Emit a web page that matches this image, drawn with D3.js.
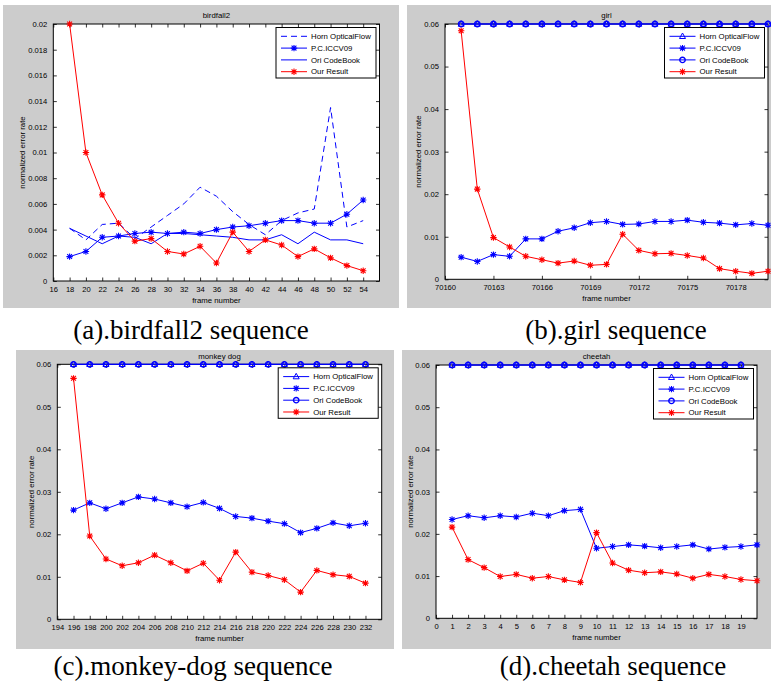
<!DOCTYPE html>
<html>
<head>
<meta charset="utf-8">
<script src="https://cdn.jsdelivr.net/npm/d3@7"></script>
<style>
  body { margin: 0; background: #fff; }
  svg { display: block; }
  text { font-family: "Liberation Sans", Arial, sans-serif; }
</style>
</head>
<body>
<svg id="fig"></svg>
<script>
const width = 771;
const height = 683;

// legend labels, same for every panel
const legendLabels = ["Horn OpticalFlow", "P.C.ICCV09", "Ori CodeBook", "Our Result"];

// (a) birdfall2
const birdFrames = [18, 20, 22, 24, 26, 28, 30, 32, 34, 36, 38, 40, 42, 44, 46, 48, 50, 52, 54];
const birdHorn = [0.0041, 0.0032, 0.0044, 0.0045, 0.0033, 0.0042, 0.0051, 0.0060, 0.0073, 0.0066, 0.0054, 0.0044, 0.0036, 0.0047, 0.0053, 0.0056, 0.0135, 0.0042, 0.0047];
const birdPC = [0.0019, 0.0023, 0.0034, 0.0035, 0.0037, 0.0038, 0.0037, 0.0038, 0.0037, 0.0040, 0.0042, 0.0043, 0.0045, 0.0047, 0.0047, 0.0045, 0.0045, 0.0052, 0.0063];
const birdOri = [0.0041, 0.0035, 0.0029, 0.0035, 0.0034, 0.0029, 0.0037, 0.0037, 0.0036, 0.0035, 0.0034, 0.0032, 0.0032, 0.0036, 0.0029, 0.0038, 0.0032, 0.0032, 0.0029];
const birdOur = [0.0200, 0.0100, 0.0067, 0.0045, 0.0031, 0.0033, 0.0023, 0.0021, 0.0027, 0.0014, 0.0038, 0.0023, 0.0032, 0.0028, 0.0019, 0.0025, 0.0018, 0.0012, 0.0008];
const birdXTicks = [16, 18, 20, 22, 24, 26, 28, 30, 32, 34, 36, 38, 40, 42, 44, 46, 48, 50, 52, 54];
const birdYTicks = [0, 0.002, 0.004, 0.006, 0.008, 0.01, 0.012, 0.014, 0.016, 0.018, 0.02];

// (b) girl
const girlFrames = [70161, 70162, 70163, 70164, 70165, 70166, 70167, 70168, 70169, 70170, 70171, 70172, 70173, 70174, 70175, 70176, 70177, 70178, 70179, 70180];
const girlHorn = [0.06, 0.06, 0.06, 0.06, 0.06, 0.06, 0.06, 0.06, 0.06, 0.06, 0.06, 0.06, 0.06, 0.06, 0.06, 0.06, 0.06, 0.06, 0.06, 0.06];
const girlPC = [0.0052, 0.0042, 0.0058, 0.0054, 0.0095, 0.0095, 0.0113, 0.0121, 0.0133, 0.0136, 0.0129, 0.0130, 0.0136, 0.0136, 0.0139, 0.0134, 0.0132, 0.0128, 0.0131, 0.0127];
const girlOri = [0.06, 0.06, 0.06, 0.06, 0.06, 0.06, 0.06, 0.06, 0.06, 0.06, 0.06, 0.06, 0.06, 0.06, 0.06, 0.06, 0.06, 0.06, 0.06, 0.06];
const girlOur = [0.0584, 0.0212, 0.0098, 0.0076, 0.0054, 0.0046, 0.0038, 0.0043, 0.0033, 0.0035, 0.0106, 0.0068, 0.0060, 0.0061, 0.0056, 0.0050, 0.0025, 0.0019, 0.0014, 0.0019];
const girlXTicks = [70160, 70163, 70166, 70169, 70172, 70175, 70178];
const girlYTicks = [0, 0.01, 0.02, 0.03, 0.04, 0.05, 0.06];

// (c) monkey dog
const monkeyFrames = [196, 198, 200, 202, 204, 206, 208, 210, 212, 214, 216, 218, 220, 222, 224, 226, 228, 230, 232];
const monkeyHorn = [0.06, 0.06, 0.06, 0.06, 0.06, 0.06, 0.06, 0.06, 0.06, 0.06, 0.06, 0.06, 0.06, 0.06, 0.06, 0.06, 0.06, 0.06, 0.06];
const monkeyPC = [0.0257, 0.0274, 0.0260, 0.0274, 0.0288, 0.0283, 0.0274, 0.0265, 0.0275, 0.0261, 0.0242, 0.0238, 0.0231, 0.0225, 0.0204, 0.0214, 0.0227, 0.0220, 0.0226];
const monkeyOri = [0.06, 0.06, 0.06, 0.06, 0.06, 0.06, 0.06, 0.06, 0.06, 0.06, 0.06, 0.06, 0.06, 0.06, 0.06, 0.06, 0.06, 0.06, 0.06];
const monkeyOur = [0.0567, 0.0196, 0.0142, 0.0126, 0.0133, 0.0151, 0.0133, 0.0114, 0.0132, 0.0092, 0.0158, 0.0111, 0.0103, 0.0093, 0.0064, 0.0115, 0.0105, 0.0101, 0.0085];
const monkeyXTicks = [194, 196, 198, 200, 202, 204, 206, 208, 210, 212, 214, 216, 218, 220, 222, 224, 226, 228, 230, 232];
const monkeyYTicks = [0, 0.01, 0.02, 0.03, 0.04, 0.05, 0.06];

// (d) cheetah
const cheetahFrames = [1, 2, 3, 4, 5, 6, 7, 8, 9, 10, 11, 12, 13, 14, 15, 16, 17, 18, 19, 20];
const cheetahTopFrames = [1, 2, 3, 4, 5, 6, 7, 8, 9, 10, 11, 12, 13, 14, 15, 16, 17, 18, 19];
const cheetahHorn = [0.06, 0.06, 0.06, 0.06, 0.06, 0.06, 0.06, 0.06, 0.06, 0.06, 0.06, 0.06, 0.06, 0.06, 0.06, 0.06, 0.06, 0.06, 0.06];
const cheetahPC = [0.0234, 0.0243, 0.0238, 0.0243, 0.0240, 0.0249, 0.0243, 0.0255, 0.0258, 0.0166, 0.0170, 0.0174, 0.0171, 0.0167, 0.0170, 0.0174, 0.0164, 0.0168, 0.0170, 0.0174];
const cheetahOri = [0.06, 0.06, 0.06, 0.06, 0.06, 0.06, 0.06, 0.06, 0.06, 0.06, 0.06, 0.06, 0.06, 0.06, 0.06, 0.06, 0.06, 0.06, 0.06];
const cheetahOur = [0.0216, 0.0139, 0.0120, 0.0099, 0.0104, 0.0095, 0.0099, 0.0091, 0.0085, 0.0203, 0.0131, 0.0114, 0.0108, 0.0110, 0.0105, 0.0095, 0.0104, 0.0099, 0.0092, 0.0089];
const cheetahXTicks = [0, 1, 2, 3, 4, 5, 6, 7, 8, 9, 10, 11, 12, 13, 14, 15, 16, 17, 18, 19];
const cheetahYTicks = [0, 0.01, 0.02, 0.03, 0.04, 0.05, 0.06];

const BLUE = "#0000ff";
const RED = "#ff0000";

const svg = d3.select("#fig")
  .attr("width", width)
  .attr("height", height)
  .attr("viewBox", `0 0 ${width} ${height}`);

svg.append("rect").attr("width", width).attr("height", height).attr("fill", "#fff");

// marker shapes (matlab style)
function drawMarker(g, type, color) {
  if (type === "star") {
    g.append("path")
      .attr("d", "M-3.2,0H3.2M0,-3.2V3.2M-2.4,-2.4L2.4,2.4M-2.4,2.4L2.4,-2.4")
      .attr("stroke", color).attr("stroke-width", 1.1).attr("fill", "none");
  } else if (type === "circle") {
    g.append("circle").attr("r", 2.7)
      .attr("stroke", color).attr("stroke-width", 1.4).attr("fill", "none");
  } else if (type === "triangle") {
    g.append("path").attr("d", "M0,-3.3L3,2.2H-3Z")
      .attr("stroke", color).attr("stroke-width", 1).attr("fill", "none");
  }
}

function drawPanel(p) {
  const g = svg.append("g");

  // grey figure background
  g.append("rect")
    .attr("x", p.frame[0]).attr("y", p.frame[1])
    .attr("width", p.frame[2] - p.frame[0]).attr("height", p.frame[3] - p.frame[1])
    .attr("fill", "#cccccc");

  const x = d3.scaleLinear().domain(p.xDomain).range([p.box.left, p.box.right]);
  const y = d3.scaleLinear().domain(p.yDomain).range([p.box.bottom, p.box.top]);

  g.append("rect")
    .attr("x", p.box.left).attr("y", p.box.top)
    .attr("width", p.box.right - p.box.left).attr("height", p.box.bottom - p.box.top)
    .attr("fill", "#fff");

  const fmt = d => String(d);
  const tick = 3.5;

  const xb = g.append("g").attr("transform", `translate(0,${p.box.bottom})`)
    .call(d3.axisBottom(x).tickValues(p.xTicks).tickFormat(fmt).tickSize(-tick).tickPadding(5.5));
  const xt = g.append("g").attr("transform", `translate(0,${p.box.top})`)
    .call(d3.axisTop(x).tickValues(p.xTicks).tickFormat("").tickSize(-tick));
  const yl = g.append("g").attr("transform", `translate(${p.box.left},0)`)
    .call(d3.axisLeft(y).tickValues(p.yTicks).tickFormat(fmt).tickSize(-tick).tickPadding(6));
  const yr = g.append("g").attr("transform", `translate(${p.box.right},0)`)
    .call(d3.axisRight(y).tickValues(p.yTicks).tickFormat("").tickSize(-tick));

  [xb, xt, yl, yr].forEach(a => {
    a.select(".domain").remove();
    a.selectAll("line").attr("stroke", "#000").attr("stroke-width", 0.8);
    a.selectAll("text").attr("font-size", 7.6).attr("fill", "#000")
      .style("font-family", '"Liberation Sans", Arial, sans-serif');
  });

  g.append("rect")
    .attr("x", p.box.left).attr("y", p.box.top)
    .attr("width", p.box.right - p.box.left).attr("height", p.box.bottom - p.box.top)
    .attr("fill", "none").attr("stroke", "#000").attr("stroke-width", 1);

  const cx = (p.box.left + Math.min(p.box.right, width)) / 2;
  g.append("text").attr("x", cx).attr("y", p.box.top - 5.8)
    .attr("text-anchor", "middle").attr("font-size", 7.8).text(p.title);
  g.append("text").attr("x", cx).attr("y", p.box.bottom + 21.5)
    .attr("text-anchor", "middle").attr("font-size", 7.8).text("frame number");
  g.append("text")
    .attr("transform", `translate(${p.box.left - p.yLabelOffset},${(p.box.top + p.box.bottom) / 2}) rotate(-90)`)
    .attr("text-anchor", "middle").attr("dy", "0.35em").attr("font-size", 7.8)
    .text("normalized error rate");

  // series
  const line = d3.line().x(d => x(d[0])).y(d => y(d[1]));
  p.series.forEach(s => {
    const pts = d3.zip(s.frames, s.values);
    g.append("path").datum(pts)
      .attr("d", line)
      .attr("fill", "none")
      .attr("stroke", s.color)
      .attr("stroke-width", 1)
      .attr("stroke-dasharray", s.dash ? "6,4" : null);
    if (s.marker) {
      pts.forEach(d => {
        const m = g.append("g").attr("transform", `translate(${x(d[0])},${y(d[1])})`);
        drawMarker(m, s.marker, s.color);
      });
    }
  });

  // legend
  const lw = 100, lh = 50.5;
  const lx = p.box.right - 3.5 - lw;
  const ly = p.box.top + 3.5;
  const lg = g.append("g").attr("transform", `translate(${lx},${ly})`);
  lg.append("rect").attr("width", lw).attr("height", lh)
    .attr("fill", "#fff").attr("stroke", "#000").attr("stroke-width", 1);
  p.series.forEach((s, i) => {
    const ry = 8.8 + i * 11.8;
    lg.append("line").attr("x1", 5).attr("x2", 31).attr("y1", ry).attr("y2", ry)
      .attr("stroke", s.color).attr("stroke-width", 1)
      .attr("stroke-dasharray", s.dash ? "6,4" : null);
    if (s.marker) {
      const m = lg.append("g").attr("transform", `translate(18,${ry})`);
      drawMarker(m, s.marker, s.color);
    }
    lg.append("text").attr("x", 35).attr("y", ry).attr("dy", "0.35em")
      .attr("font-size", 7.8).text(legendLabels[i]);
  });

  // caption below the figure
  svg.append("text")
    .attr("x", p.captionX).attr("y", p.captionY)
    .attr("text-anchor", "middle")
    .attr("font-size", 27)
    .style("font-family", '"Liberation Serif", "Times New Roman", serif')
    .text(p.caption);
}

drawPanel({
  frame: [3, 5, 399, 308],
  box: { left: 53.3, right: 379.5, top: 24, bottom: 281 },
  xDomain: [16, 56], yDomain: [0, 0.02],
  xTicks: birdXTicks, yTicks: birdYTicks,
  title: "birdfall2", yLabelOffset: 31.5,
  series: [
    { frames: birdFrames, values: birdHorn, color: BLUE, dash: true, marker: null },
    { frames: birdFrames, values: birdPC, color: BLUE, marker: "star" },
    { frames: birdFrames, values: birdOri, color: BLUE, marker: null },
    { frames: birdFrames, values: birdOur, color: RED, marker: "star" }
  ],
  caption: "(a).birdfall2 sequence", captionX: 191, captionY: 339
});

drawPanel({
  frame: [407, 5, 771, 308],
  box: { left: 445, right: 768, top: 24, bottom: 279.3 },
  xDomain: [70160, 70180], yDomain: [0, 0.06],
  xTicks: girlXTicks, yTicks: girlYTicks,
  title: "girl", yLabelOffset: 27,
  series: [
    { frames: girlFrames, values: girlHorn, color: BLUE, marker: "triangle" },
    { frames: girlFrames, values: girlPC, color: BLUE, marker: "star" },
    { frames: girlFrames, values: girlOri, color: BLUE, marker: "circle" },
    { frames: girlFrames, values: girlOur, color: RED, marker: "star" }
  ],
  caption: "(b).girl sequence", captionX: 616, captionY: 339
});

drawPanel({
  frame: [16, 350, 394, 649],
  box: { left: 57.3, right: 381.7, top: 364.3, bottom: 619.3 },
  xDomain: [194, 234], yDomain: [0, 0.06],
  xTicks: monkeyXTicks, yTicks: monkeyYTicks,
  title: "monkey dog", yLabelOffset: 26.5,
  series: [
    { frames: monkeyFrames, values: monkeyHorn, color: BLUE, marker: "triangle" },
    { frames: monkeyFrames, values: monkeyPC, color: BLUE, marker: "star" },
    { frames: monkeyFrames, values: monkeyOri, color: BLUE, marker: "circle" },
    { frames: monkeyFrames, values: monkeyOur, color: RED, marker: "star" }
  ],
  caption: "(c).monkey-dog sequence", captionX: 193, captionY: 675
});

drawPanel({
  frame: [402, 350, 771, 649],
  box: { left: 436, right: 757, top: 365, bottom: 618.3 },
  xDomain: [0, 20], yDomain: [0, 0.06],
  xTicks: cheetahXTicks, yTicks: cheetahYTicks,
  title: "cheetah", yLabelOffset: 26,
  series: [
    { frames: cheetahTopFrames, values: cheetahHorn, color: BLUE, marker: "triangle" },
    { frames: cheetahFrames, values: cheetahPC, color: BLUE, marker: "star" },
    { frames: cheetahTopFrames, values: cheetahOri, color: BLUE, marker: "circle" },
    { frames: cheetahFrames, values: cheetahOur, color: RED, marker: "star" }
  ],
  caption: "(d).cheetah sequence", captionX: 613, captionY: 675
});
</script>
</body>
</html>
